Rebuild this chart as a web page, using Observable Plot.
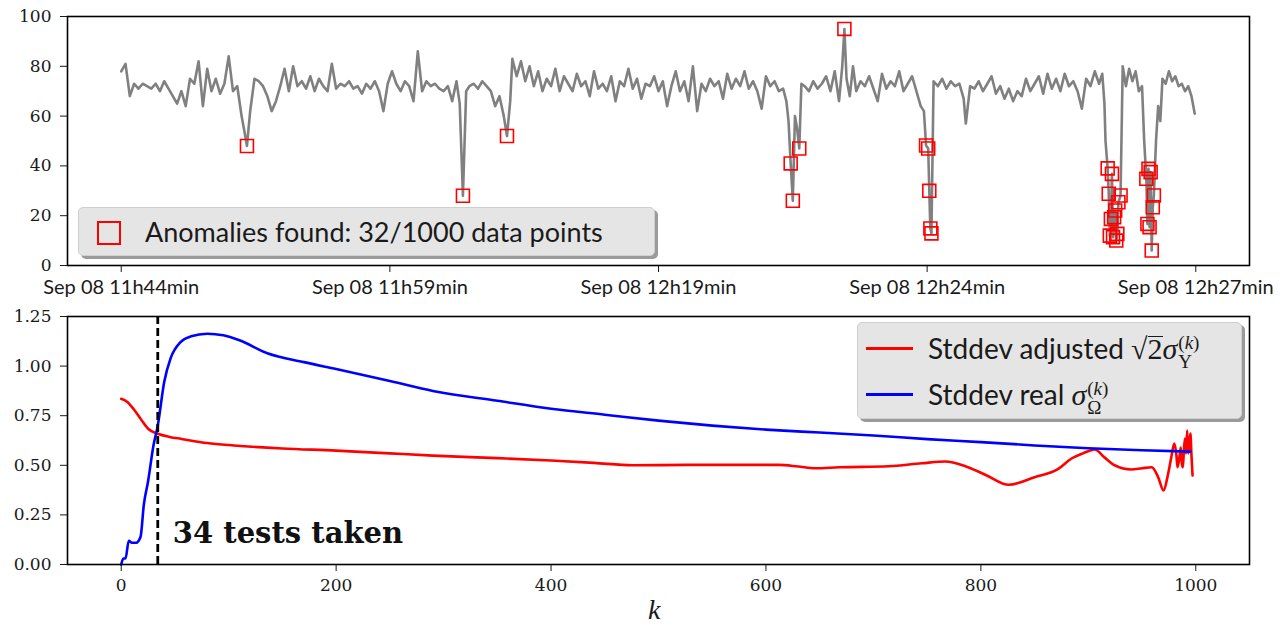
<!DOCTYPE html>
<html><head><meta charset="utf-8">
<script src="https://cdn.jsdelivr.net/npm/d3@7"></script>
<script src="https://cdn.jsdelivr.net/npm/@observablehq/plot@0.6"></script>
<style>
body{margin:0;background:#fff;}
#wrap{position:relative;width:1287px;height:628px;overflow:hidden;background:#fff;}
#top,#bot{position:absolute;left:0;}
#top{top:0;z-index:1} #bot{top:295px;z-index:0}
.legend{position:absolute;box-sizing:border-box;background:#e5e5e5;border:1px solid #cfcfcf;border-radius:5px;box-shadow:3px 3px 0 #9a9a9a;font-family:Lato,sans-serif;color:#1a1a1a;z-index:5}
.lline{position:absolute;left:8px;width:47px;height:3px}
.ltext{position:absolute;left:70px;height:46px;line-height:46px;font-size:28px;white-space:nowrap}
.m{font-family:'Liberation Serif',serif;font-size:30px}
.ov{border-top:1.5px solid #1a1a1a;display:inline-block;line-height:24px}
.ss{display:inline-flex;flex-direction:column;font-family:'Liberation Serif',serif;font-size:19px;line-height:19px;vertical-align:middle;margin-left:1px}
#klabel{position:absolute;left:648px;top:594px;font:italic 28px 'Liberation Serif',serif;color:#1a1a1a;z-index:5}
</style></head><body>
<div id="wrap">
  <div id="top"></div>
  <div id="bot"></div>
  <div class="legend" style="left:78px;top:207px;width:577px;height:49px;">
    <svg style="position:absolute;left:18px;top:13px" width="24" height="24"><rect x="1" y="1" width="22" height="22" fill="none" stroke="#ff0000" stroke-width="2"/></svg>
    <div style="position:absolute;left:66px;top:0;line-height:47px;font-size:27px;white-space:nowrap">Anomalies found: 32/1000 data points</div>
  </div>
  <div class="legend" style="left:857px;top:322px;width:385px;height:97px;">
    <div class="lline" style="top:24px;background:#ff0000"></div>
    <div class="ltext" style="top:2px">Stddev adjusted <span class="m">√<span class="ov">2</span><i>σ</i></span><span class="ss"><span>(<i>k</i>)</span><span>Υ</span></span></div>
    <div class="lline" style="top:70px;background:#0000ff"></div>
    <div class="ltext" style="top:48px">Stddev real <span class="m"><i>σ</i></span><span class="ss"><span>(<i>k</i>)</span><span>Ω</span></span></div>
  </div>
  <div id="klabel">k</div>
</div>
<script>
// ---- top panel: sensor series (index, value) ----
const series = [
[0,78],[4,81],[8,68],[12,73],[16,71],[20,73],[24,72],[28,71],[32,73],[36,70],[40,74],[44,71],[48,68],[52,65],[56,70],[60,64],[64,75],[68,73],[72,82],[76,64],[80,79],[84,70],[88,75],[92,69],[96,73],[100,84],[104,70],[108,72],[112,60],[115,53],[120,62],[124,75],[128,74],[132,72],[136,68],[140,62],[144,66],[148,72],[152,79],[156,70],[160,80],[164,72],[168,74],[172,71],[176,76],[180,70],[184,75],[188,72],[192,70],[196,81],[200,71],[204,73],[208,72],[212,74],[216,71],[220,72],[224,69],[228,73],[232,71],[236,74],[240,70],[244,62],[248,73],[252,78],
[256,73],[260,70],[264,74],[268,72],[272,66],[276,86],[280,70],[284,74],[288,72],[292,73],[296,71],[300,70],[304,72],[308,66],[312,74],[315,65],[321,70],[324,72],[328,73],[332,71],[336,74],[340,72],[344,70],[348,64],[352,68],[356,60],[362,66],[364,83],[368,76],[372,82],[376,74],[380,80],[384,72],[388,78],[392,70],[396,75],[400,72],[404,79],[408,70],[412,76],[416,73],[420,70],[424,77],[428,72],[432,74],[436,68],[440,78],[444,71],[448,73],[452,70],[456,76],[460,66],[464,74],[468,72],[472,79],[476,71],[480,75],[484,67],[488,73],[492,72],[496,76],[500,70],[504,74],[508,64],[512,72],[516,78],[520,70],[524,74],
[528,66],[532,80],[536,62],[540,73],[544,70],[548,75],[552,72],[556,74],[560,67],[564,77],[568,71],[572,75],[576,72],[580,78],[584,71],[588,74],[592,70],[596,63],[600,76],[604,72],[608,74],[612,70],[616,71],[619,66],[621,58],[627,60],[629,55],[633,73],[636,72],[640,70],[644,74],[648,71],[652,73],[656,76],[660,70],[664,78],[668,66],[671,80],[675,75],[678,68],[681,80],[684,70],[688,74],[692,72],[696,76],[700,71],[704,66],[708,77],[712,71],[716,74],[720,72],[724,78],[728,70],[732,73],[736,76],[740,70],[744,64],[747,62],[756,74],[760,72],[764,75],[768,71],[772,74],[776,72],[780,73],[784,67],[786,57],[790,72],[794,71],[798,74],[802,70],[806,73],[810,76],[814,69],[818,72],[822,67],[826,71],[830,66],[834,70],[838,68],[842,75],[846,70],[850,73],[854,76],[858,69],[862,77],[866,71],[870,75],[874,70],[878,77],[882,72],[886,74],[890,70],[894,63],[898,75],[902,72],[906,78],[910,73],[913,77],[915,65],[916,50],[932,80],[935,72],[938,79],[941,74],[944,78],[947,70],[950,72],[952,50],[963,50],[965,64],[967,58],[969,75],[972,73],[975,78],[978,74],[981,76],[984,72],[987,73],[990,70],[993,72],[996,68],[999,61]
];
// anomalies found (index, value) — 32 points
const anomalies = [
[117,48],[318,28],[359,52],[623,41],[625,26],[631,47],[673,95],[749,48.2],[751,47],[752,30],[753,14.9],[754,12.9],
[918,39],[919,28.8],[920,12],[921,18.7],[922,36.8],[923,11.4],[924,19.4],[925,22.1],[926,10],[927,12.7],[928,25.4],[930,28.1],
[954,34.8],[955,16.7],[956,38.8],[957,15.4],[958,37.5],[959,6],[960,23.4],[961,28.1]
];
const timeTicks = [0, 250, 500, 750, 1000];
const timeLabels = ["Sep 08 11h44min", "Sep 08 11h59min", "Sep 08 12h19min", "Sep 08 12h24min", "Sep 08 12h27min"];
const topYTicks = [0, 20, 40, 60, 80, 100];

// ---- bottom panel ----
const kBlue = [0,2,4,7,10,14,18,21,25,30,34,40,46,55,65,80,95,110,136,170,200,250,290,350,400,450,500,550,600,650,700,750,800,850,900,950,995];
const sigmaReal = [0,0.03,0.03,0.12,0.11,0.11,0.14,0.3,0.42,0.6,0.7,0.92,1.04,1.12,1.15,1.163,1.155,1.13,1.065,1.02,0.985,0.925,0.875,0.825,0.785,0.755,0.725,0.7,0.68,0.665,0.65,0.632,0.617,0.6,0.586,0.576,0.569];
const kRed = [0,6,12,18,25,34,45,56,80,105,150,200,250,290,350,400,440,476,526,570,612,630,646,668,714,745,767,785,805,826,850,872,884,895,906,915,925,940,950,959,965,970,974,977,980,982,983,985,986,987,988,989,990,991,992,993,994,995,996,997];
const sigmaAdj = [0.835,0.818,0.78,0.735,0.684,0.659,0.643,0.633,0.612,0.6,0.585,0.574,0.56,0.549,0.536,0.524,0.512,0.5,0.502,0.502,0.502,0.494,0.485,0.49,0.495,0.51,0.519,0.497,0.45,0.402,0.44,0.482,0.533,0.56,0.58,0.54,0.499,0.479,0.485,0.49,0.44,0.373,0.45,0.534,0.61,0.55,0.49,0.55,0.59,0.51,0.49,0.58,0.635,0.56,0.675,0.56,0.6,0.66,0.55,0.449];
const kTicks = [0, 200, 400, 600, 800, 1000];
const botYTicks = [0, 0.25, 0.5, 0.75, 1, 1.25];
const testsTaken = 34;
const annotation = [{k: 48, v: 0.11, label: "34 tests taken"}];

const lineData = series.concat(anomalies).map(([i, v]) => ({i, v})).sort((a, b) => a.i - b.i);
const anomalyData = anomalies.map(([i, v]) => ({i, v}));

const topPlot = Plot.plot({
  width: 1287, height: 295,
  marginLeft: 67, marginRight: 38, marginTop: 16, marginBottom: 30,
  style: {background: "transparent", overflow: "visible", fontFamily: "'DejaVu Serif', serif", fontSize: "17px", color: "#1a1a1a"},
  x: {domain: [-50, 1050], ticks: timeTicks, tickFormat: d => timeLabels[timeTicks.indexOf(d)], tickSize: 7, tickPadding: 7, label: null},
  y: {domain: [0, 100], ticks: topYTicks, tickSize: 7, tickPadding: 9, label: null},
  marks: [
    Plot.line(lineData, {x: "i", y: "v", stroke: "#808080", strokeWidth: 2.6}),
    Plot.dot(anomalyData, {x: "i", y: "v", symbol: "square", r: 7.3, stroke: "#ff0000", strokeWidth: 1.6, fill: "none"}),
    Plot.frame({stroke: "#000", strokeWidth: 1.6})
  ]
});
document.getElementById("top").appendChild(topPlot);

const blueData = kBlue.map((k, i) => ({k, v: sigmaReal[i]}));
const redData = kRed.map((k, i) => ({k, v: sigmaAdj[i]}));

const botPlot = Plot.plot({
  width: 1287, height: 333,
  marginLeft: 67, marginRight: 38, marginTop: 21, marginBottom: 64,
  style: {background: "transparent", overflow: "visible", fontFamily: "'DejaVu Serif', serif", fontSize: "17px", color: "#1a1a1a"},
  x: {domain: [-50, 1050], ticks: kTicks, tickFormat: d => String(d), tickSize: 7, tickPadding: 7, label: null},
  y: {domain: [0, 1.25], ticks: botYTicks, tickFormat: d => d.toFixed(2), tickSize: 7, tickPadding: 9, label: null},
  marks: [
    Plot.line(redData, {x: "k", y: "v", stroke: "#ff0000", strokeWidth: 2.6, curve: "monotone-x"}),
    Plot.line(blueData, {x: "k", y: "v", stroke: "#0000ff", strokeWidth: 2.6, curve: "monotone-x"}),
    Plot.ruleX([testsTaken], {stroke: "#000", strokeWidth: 2.8, strokeDasharray: "8,4"}),
    Plot.text(annotation, {x: "k", y: "v", text: "label", textAnchor: "start", lineAnchor: "bottom", fontFamily: "'DejaVu Serif', serif", fontWeight: "bold", fontSize: 29, fill: "#111"}),
    Plot.frame({stroke: "#000", strokeWidth: 1.6})
  ]
});
document.getElementById("bot").appendChild(botPlot);

// top x tick labels use sans-serif like the reference
topPlot.querySelectorAll('g[aria-label^="x-axis"]').forEach(g => {
  g.style.fontFamily = "Lato, sans-serif";
  g.style.fontSize = "20px";
});
</script>
</body></html>
